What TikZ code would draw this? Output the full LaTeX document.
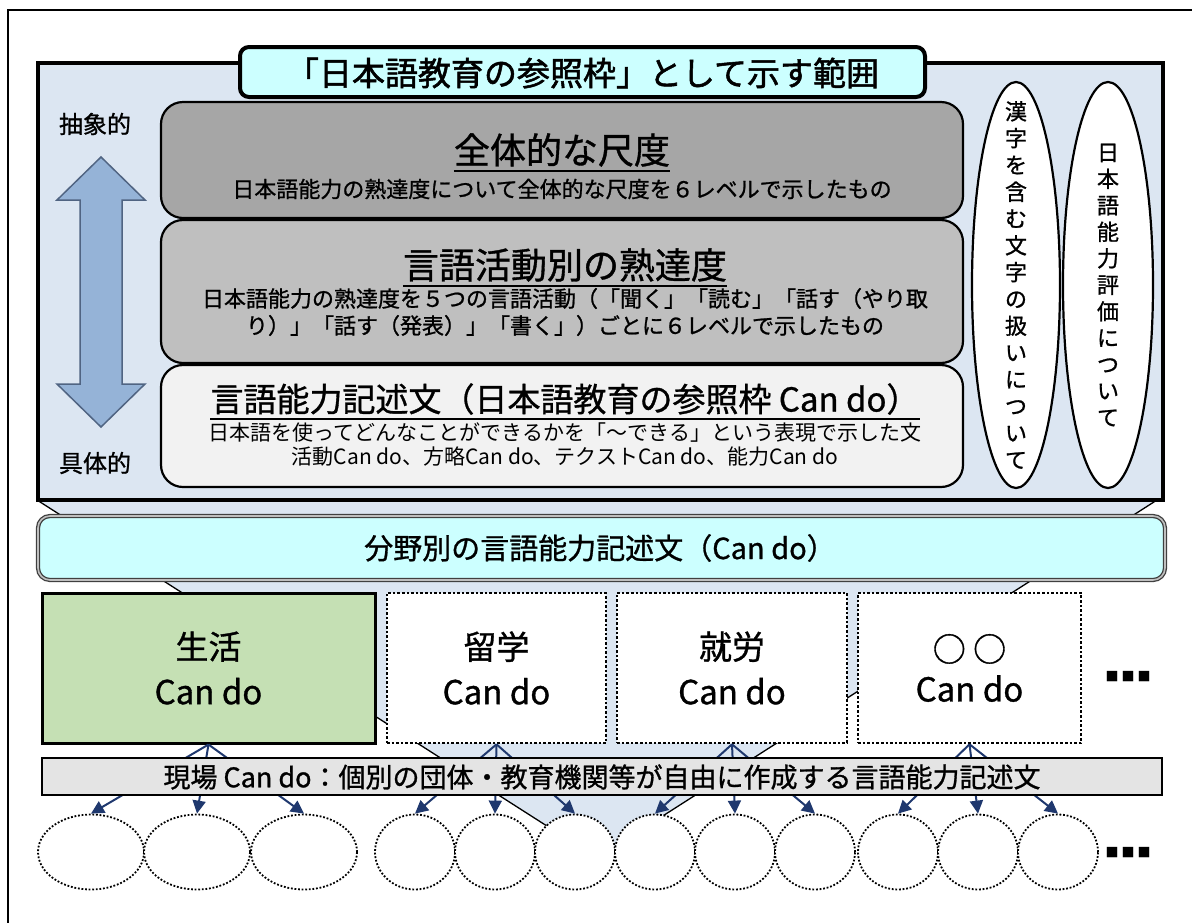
\documentclass[tikz,border=0pt]{standalone}
\usepackage{fontspec}
\setmainfont{Noto Sans CJK JP}
\newfontfamily\jpb[FakeBold=1.6]{Noto Sans CJK JP}
\newfontfamily\jpm[FakeBold=1.0]{Noto Sans CJK JP}
\usetikzlibrary{shapes.geometric,arrows.meta,calc}
\definecolor{frameblue}{RGB}{220,230,242}
\definecolor{cyanbox}{RGB}{204,255,255}
\definecolor{grayA}{RGB}{166,166,166}
\definecolor{grayB}{RGB}{191,191,191}
\definecolor{grayC}{RGB}{242,242,242}
\definecolor{arrowblue}{RGB}{149,179,215}
\definecolor{arrowedge}{RGB}{80,100,130}
\definecolor{lifegreen}{RGB}{197,224,180}
\definecolor{sitegray}{RGB}{228,228,228}
\definecolor{navy}{RGB}{31,56,110}
\newcommand\fsz[2]{\fontsize{#1}{#2}\selectfont}
\tikzset{
 frm/.style={draw, line width=4, fill=frameblue, inner sep=0},
 ttl/.style={draw, line width=4, fill=cyanbox, rounded corners=9, inner sep=0},
 lvl/.style={draw, line width=2.2, rounded corners=22, inner sep=0, minimum width=802},
 vell/.style={ellipse, draw, line width=2.2, fill=white, inner sep=0},
 fieldbar/.style={draw=black!75, double=black!25, double distance=1.6, line width=1.3, fill=cyanbox, rounded corners=12, inner sep=0},
 solidbox/.style={draw, line width=3, fill=lifegreen, inner sep=0, minimum height=150},
 dotbox/.style={draw, line width=2.6, dash pattern=on 2.6 off 2, fill=white, inner sep=0, minimum height=150},
 sitebar/.style={draw, line width=2, fill=sitegray, inner sep=0, minimum width=1120, minimum height=37},
 site/.style={ellipse, draw, line width=1.8, dash pattern=on 1.8 off 1.8, fill=white, minimum height=75, inner sep=0},
 arr/.style={draw=navy, line width=2, -{Triangle[length=13, width=13]}},
 lbl/.style={inner sep=0, align=center},
 ul/.style={line width=1.8},
 funnel/.style={line width=1.3},
 blockarrow/.style={draw=arrowedge, line width=1.5, fill=arrowblue},
}
\begin{document}
\begin{tikzpicture}[x=1pt,y=-1pt]
\useasboundingbox (0,0) rectangle (1192,922);
% outer border
\draw[line width=2] (8,10) rectangle (1210,940);
% funnel
\fill[frameblue] (37,500) -- (1157,500) -- (597,858) -- cycle;
\draw[funnel] (37,500) -- (597,858) -- (1157,500);
% main frame
\node[frm, minimum width=1125, minimum height=437] (frame) at (600.5,281.5) {};
\node[ttl, minimum width=685, minimum height=50] (title) at (582.5,72) {};
\node[lbl, font=\jpb\fsz{33}{38}] (titletxt) at (582.5,73) {「日本語教育の参照枠」として示す範囲};
% level boxes
\node[lvl, fill=grayC, minimum height=122] (lv3) at (562,426) {};
\node[lvl, fill=grayB, minimum height=143] (lv2) at (562,291.5) {};
\node[lvl, fill=grayA, minimum height=116] (lv1) at (562,160) {};
\node[lbl, font=\jpm\fsz{36}{40}] (h1) at (562,150) {全体的な尺度};
\draw[ul] ($(h1.south west)+(0,4)$) -- ($(h1.south east)+(0,4)$);
\node[lbl, font=\jpm\fsz{22}{27}] (s1) at (562,189) {日本語能力の熟達度について全体的な尺度を６レベルで示したもの};
\node[lbl, font=\jpm\fsz{36}{40}] (h2) at (565,265) {言語活動別の熟達度};
\draw[ul] ($(h2.south west)+(0,4)$) -- ($(h2.south east)+(0,4)$);
\node[lbl, font=\jpm\fsz{22}{27}] (s2) at (565,312) {日本語能力の熟達度を５つの言語活動（「聞く」「読む」「話す（やり取\\り）」「話す（発表）」「書く」）ごとに６レベルで示したもの};
\node[lbl, font=\jpm\fsz{33}{38}] (h3) at (565,399) {言語能力記述文（日本語教育の参照枠 Can do）};
\draw[ul] ($(h3.south west)+(0,4)$) -- ($(h3.south east)+(0,4)$);
\node[lbl, font=\fsz{21}{24}] (s3) at (565,444) {日本語を使ってどんなことができるかを「〜できる」という表現で示した文\\活動Can do、方略Can do、テクストCan do、能力Can do};
% side labels and block arrow
\node[lbl, font=\jpm\fsz{24}{28}] (abs) at (95,124) {抽象的};
\node[lbl, font=\jpm\fsz{24}{28}] (con) at (95,463) {具体的};
\draw[blockarrow] (101,157) -- (145,200) -- (122,200) -- (122,384) -- (145,384) -- (101,427) -- (57,384) -- (80,384) -- (80,200) -- (57,200) -- cycle;
% vertical ellipses
\node[vell, minimum width=88, minimum height=406] (kanji) at (1016,285) {};
\node[vell, minimum width=90, minimum height=406] (eval) at (1108,285) {};
\node[lbl, font=\jpm\fsz{22}{26.8}] at (kanji.center) {漢\\字\\を\\含\\む\\文\\字\\の\\扱\\い\\に\\つ\\い\\て};
\node[lbl, font=\jpm\fsz{22}{26.5}] at (eval.center) {日\\本\\語\\能\\力\\評\\価\\に\\つ\\い\\て};
% field bar
\node[fieldbar, minimum width=1127, minimum height=64] (field) at (601.5,548) {};
\node[lbl, font=\jpm\fsz{29}{33}] at (600,548) {分野別の言語能力記述文（Can do）};
% domain boxes
\node[solidbox, minimum width=333] (life) at (208.5,668) {};
\node[dotbox, minimum width=219] (study) at (496.5,668) {};
\node[dotbox, minimum width=230] (work) at (732,668) {};
\node[dotbox, minimum width=223] (other) at (969.5,668) {};
\node[lbl, font=\jpm\fsz{33}{45}] at (life.center) {生活\\Can do};
\node[lbl, font=\jpm\fsz{33}{45}] at (study.center) {留学\\Can do};
\node[lbl, font=\jpm\fsz{33}{45}] at (work.center) {就労\\Can do};
\node[lbl, font=\jpm\fsz{33}{40}] at (other.center) {○ ○\\Can do};
\node[lbl, font=\fsz{13}{15}] (dots1) at (1128,677) {■\hspace{3pt}■\hspace{3pt}■};
% site ellipses
\foreach \n/\x/\w in {a1/91/106,a2/197/106,a3/304/106,b1/415/80,b2/495/80,b3/575/80,c1/655/80,c2/735/80,c3/815/80,d1/898/80,d2/978/80,d3/1058/80}{
  \node[site, minimum width=\w] (\n) at (\x,852) {};
}
% arrows from domain boxes to site ellipses
\foreach \b/\g in {life/a,study/b,work/c,other/d}{
  \foreach \i in {1,2,3}{
    \draw[arr] (\b.south) -- (\g\i.north);
  }
}
% site bar
\node[sitebar] (site) at (602,776.5) {};
\node[lbl, font=\jpm\fsz{27}{31}] at (602,777) {現場 Can do：個別の団体・教育機関等が自由に作成する言語能力記述文};
\node[lbl, font=\fsz{13}{15}] (dots2) at (1128,853) {■\hspace{3pt}■\hspace{3pt}■};
\end{tikzpicture}
\end{document}
